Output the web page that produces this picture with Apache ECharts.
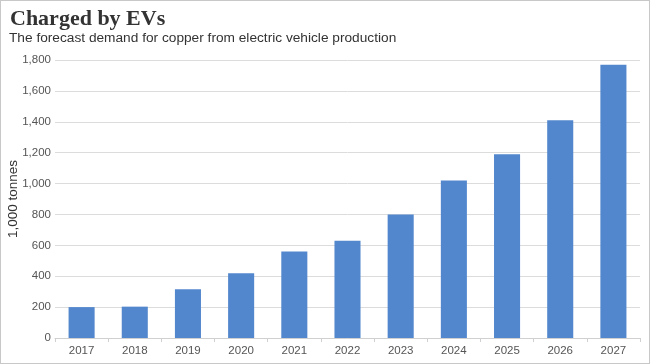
<!DOCTYPE html>
<html><head><meta charset="utf-8">
<script src="https://cdn.jsdelivr.net/npm/echarts@6/dist/echarts.min.js"></script>
<style>
html,body{margin:0;padding:0;background:#fff;}
#wrap{position:absolute;left:0;top:0;width:648px;height:362px;border:1px solid #c8c8c8;}
#c{width:650px;height:364px;position:absolute;left:-1px;top:-1px;}
</style></head>
<body><div id="wrap"><div id="c"></div></div>
<script>
const categories = ['2017','2018','2019','2020','2021','2022','2023','2024','2025','2026','2027'];
const demand = [200, 203, 315, 420, 560, 630, 800, 1020, 1190, 1410, 1770];
const titleText = 'Charged by EVs';
const subtitleText = 'The forecast demand for copper from electric vehicle production';
const yAxisName = '1,000 tonnes';

const chart = echarts.init(document.getElementById('c'));
chart.setOption({
  animation: false,
  title: [{
    text: titleText, left: 5, top: 3,
    textStyle: {fontFamily: 'Liberation Serif', fontWeight: 'bold', fontSize: 22, color: '#333'}
  },{
    text: subtitleText, left: 4, top: 26,
    textStyle: {fontFamily: 'Liberation Sans, Arial', fontWeight: 'normal', fontSize: 13.7, color: '#333'}
  }],
  grid: {left: 55, right: 10, top: 60, bottom: 26, containLabel: false, outerBoundsMode: 'none'},
  xAxis: {
    type: 'category', data: categories,
    axisLine: {show: true, lineStyle: {color: '#d0d0d0'}},
    axisTick: {show: true, length: 4, lineStyle: {color: '#d0d0d0'}},
    axisLabel: {color: '#555', fontSize: 11.5, fontFamily: 'Liberation Sans, Arial', margin: 7}
  },
  yAxis: {
    type: 'value', min: 0, max: 1800, interval: 200,
    name: yAxisName, nameLocation: 'middle', nameGap: 35, nameRotate: 90, nameMoveOverlap: false,
    nameTextStyle: {fontFamily: 'Liberation Sans Narrow, Liberation Sans, Arial', fontSize: 13.5, color: '#333'},
    axisLine: {show: false}, axisTick: {show: false},
    axisLabel: {color: '#555', fontSize: 11.5, fontFamily: 'Liberation Sans, Arial', margin: 4,
      formatter: v => v.toLocaleString('en-US')},
    splitLine: {lineStyle: {color: '#dcdcdc', width: 1}}
  },
  series: [{
    type: 'bar', data: demand, barWidth: '49%',
    itemStyle: {color: '#5387cd'}
  }]
});
</script></body></html>
